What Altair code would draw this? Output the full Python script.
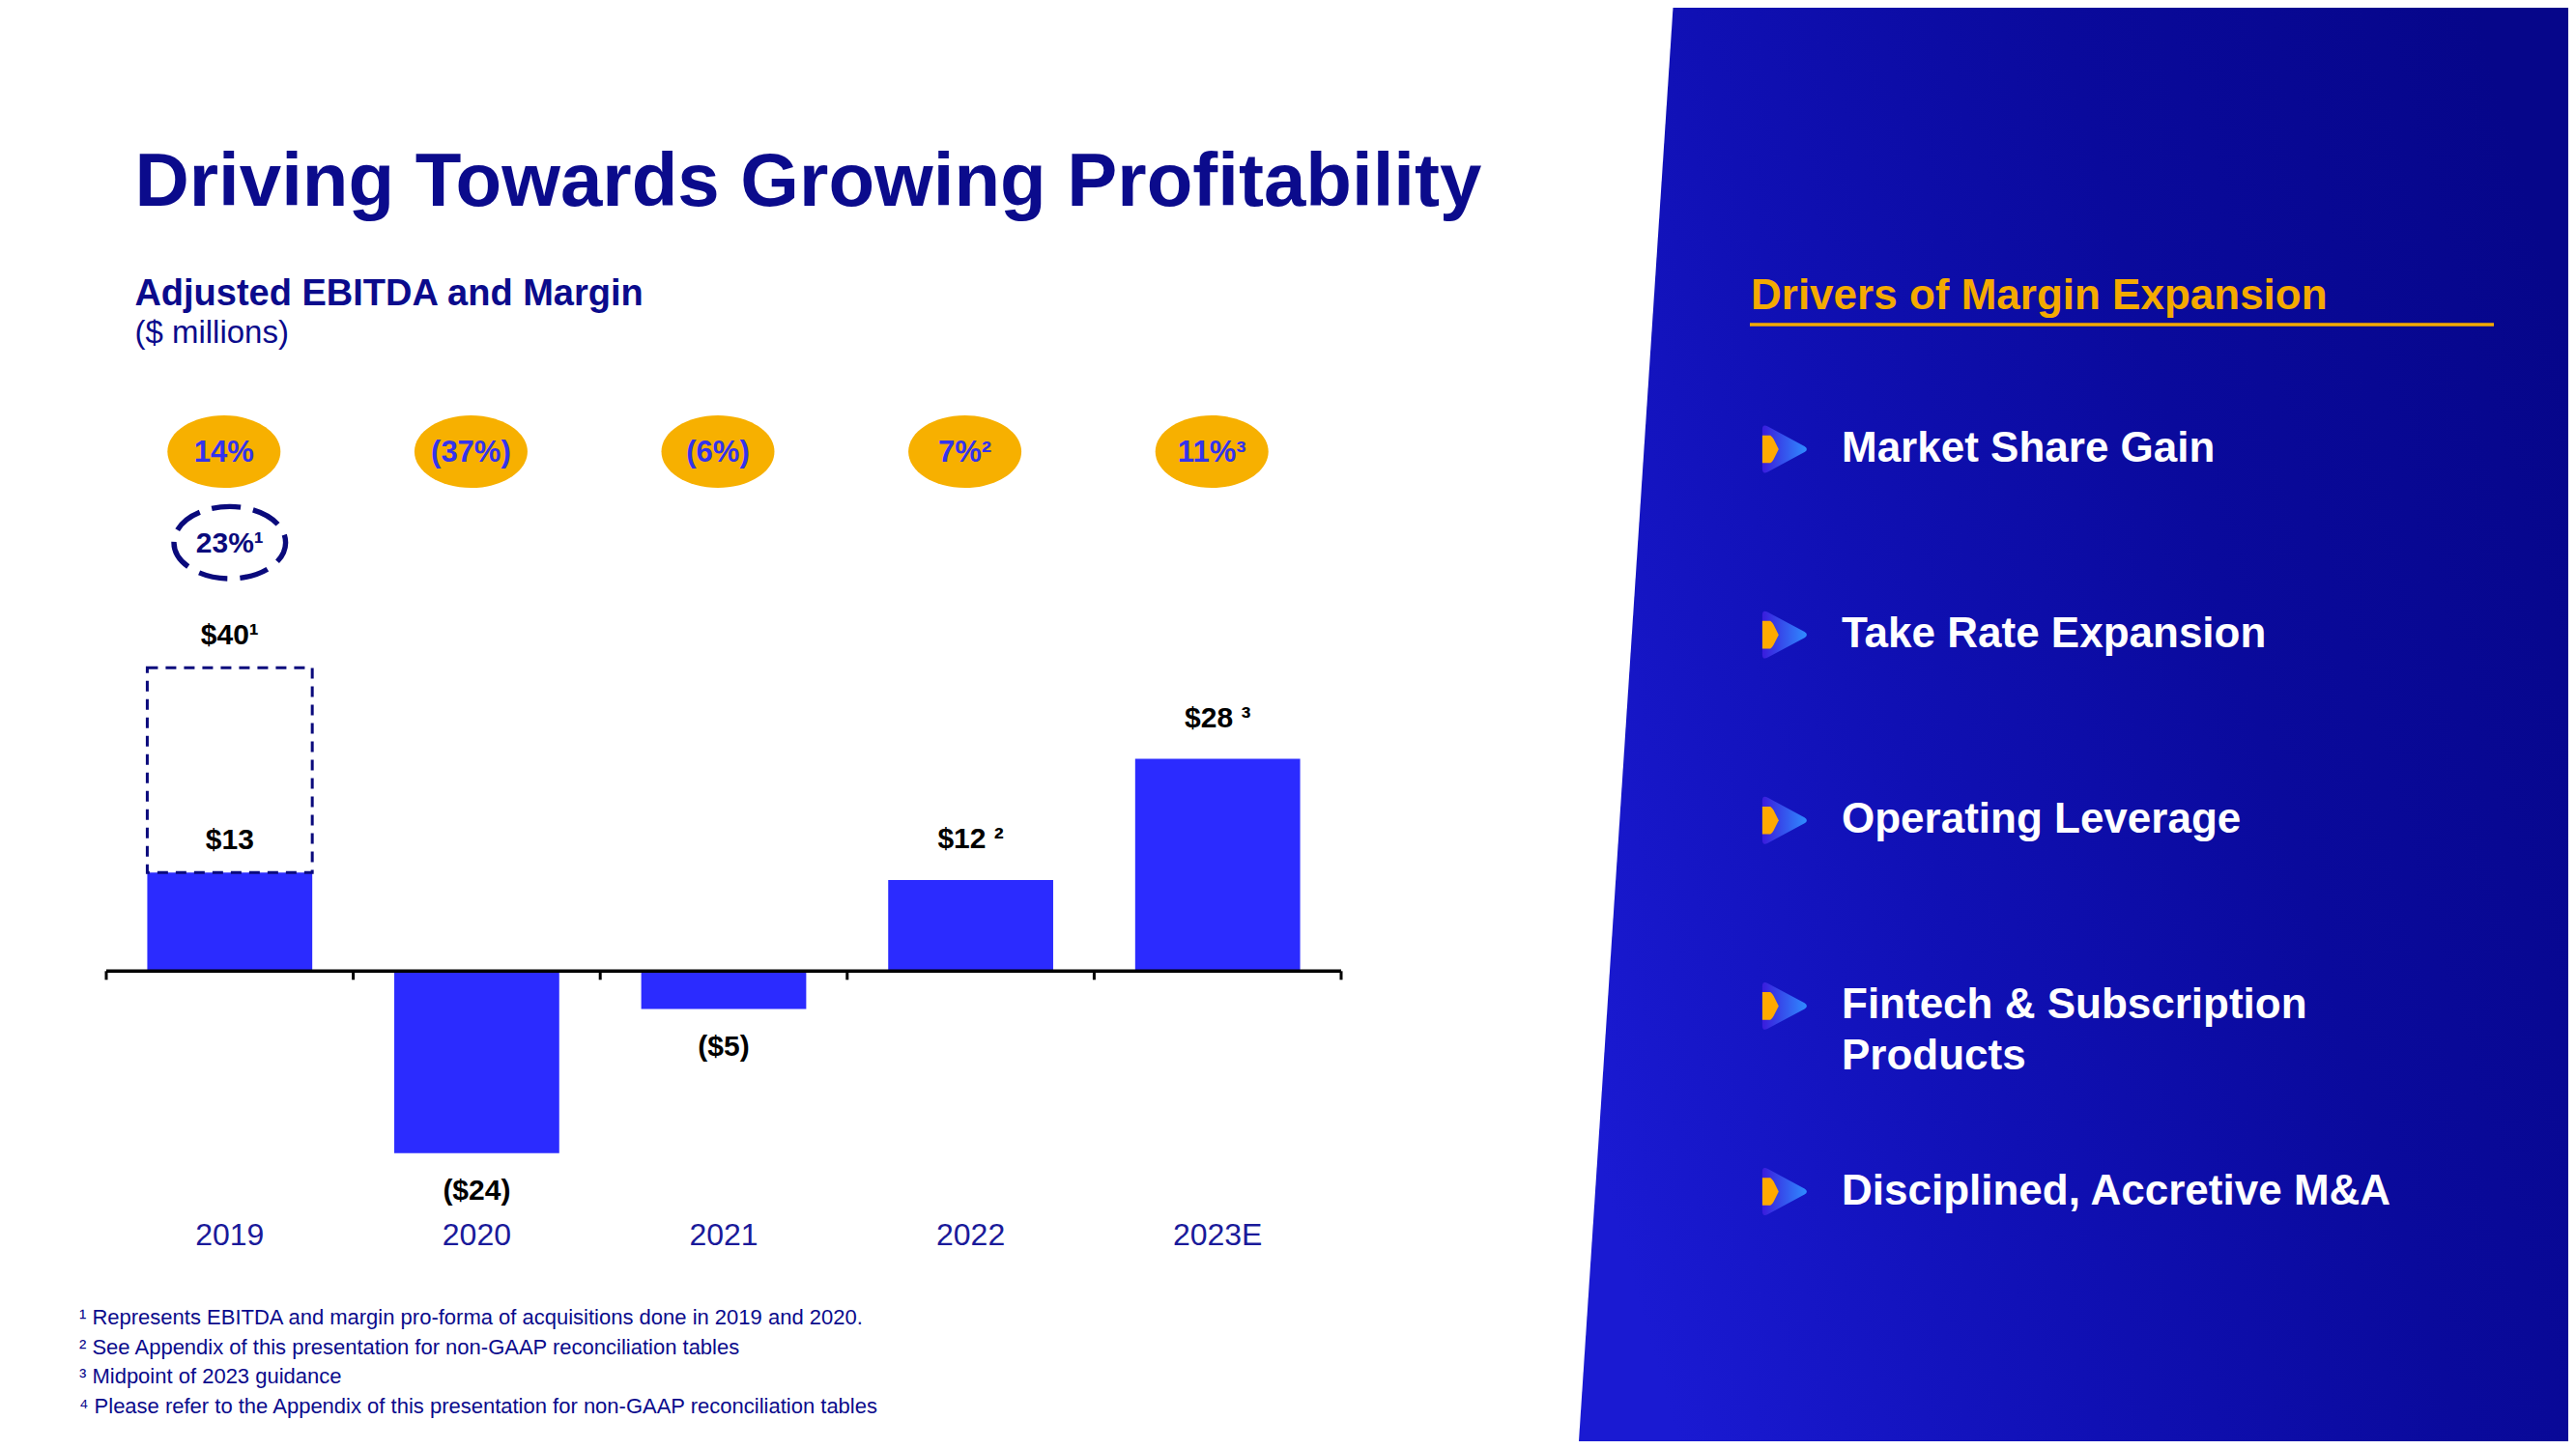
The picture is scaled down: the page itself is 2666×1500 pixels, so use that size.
import altair as alt
import pandas as pd

# ---------------- data ----------------
YEARS = ["2019", "2020", "2021", "2022", "2023E"]
EBITDA = [13, -24, -5, 12, 28]
EBITDA_LABELS = ["$13", "($24)", "($5)", "$12 ²", "$28 ³"]
MARGIN_LABELS = ["14%", "(37%)", "(6%)", "7%²", "11%³"]
PROFORMA_YEAR = ["2019"]
PROFORMA_EBITDA = [40]
PROFORMA_EBITDA_LABEL = ["$40¹"]
PROFORMA_MARGIN_LABEL = ["23%¹"]

TITLE = "Driving Towards Growing Profitability"
SUBTITLE = "Adjusted EBITDA and Margin"
UNITS = "($ millions)"
PANEL_TITLE = "Drivers of Margin Expansion"
DRIVERS = [
    "Market Share Gain",
    "Take Rate Expansion",
    "Operating Leverage",
    "Fintech & Subscription\nProducts",
    "Disciplined, Accretive M&A",
]
FOOTNOTES = [
    "¹ Represents EBITDA and margin pro-forma of acquisitions done in 2019 and 2020.",
    "² See Appendix of this presentation for non-GAAP reconciliation tables",
    "³ Midpoint of 2023 guidance",
    "⁴ Please refer to the Appendix of this presentation for non-GAAP reconciliation tables",
]

# ---------------- style / layout ----------------
W, H = 2650, 1484
FONT = "Liberation Sans, Arial, Helvetica, sans-serif"
NAVY = "#0B0B8C"
DNAVY = "#0A0A7C"
BAR = "#2B2BFF"
GOLD = "#F7B000"
BUBBLE_TXT = "#3333EE"
YEAR_C = "#1A1A9A"
PANEL_GOLD = "#F4AA00"

Y0 = 997.3
K = 7.85
XS = alt.Scale(domain=YEARS, range=[102, 1380], paddingInner=0, paddingOuter=0)
YS = alt.Scale(domain=[-30, 50], range=[Y0 + 30 * K, Y0 - 50 * K], nice=False, zero=False)
DS = alt.Scale(type="point", domain=DRIVERS, range=[457, 1225.5], padding=0)

df = pd.DataFrame({"year": YEARS, "ebitda": EBITDA,
                   "ebitda_label": EBITDA_LABELS, "margin_label": MARGIN_LABELS})
pf = pd.DataFrame({"year": PROFORMA_YEAR, "proforma": PROFORMA_EBITDA,
                   "reported": [EBITDA[0]], "label": PROFORMA_EBITDA_LABEL,
                   "margin": PROFORMA_MARGIN_LABEL})
drv = pd.DataFrame({"d": DRIVERS})

x_enc = alt.X("year:N", scale=XS, axis=None)


def text_layer(txt, x, y, **kw):
    base = dict(font=FONT, align="left", baseline="alphabetic")
    base.update(kw)
    return alt.Chart(pd.DataFrame({"t": [txt]})).mark_text(**base).encode(
        x=alt.value(x), y=alt.value(y), text="t:N")


# right panel (slanted blue block)
PANEL_PATH = "M-0.557,-1.02 L0.76,-1.02 L0.76,1.02 L-0.691,1.02 Z"
panel_grad = alt.LinearGradient(
    gradient="linear",
    stops=[alt.GradientStop(color="#1A1AD2", offset=0),
           alt.GradientStop(color="#1010B4", offset=0.35),
           alt.GradientStop(color="#0A0A9C", offset=0.65),
           alt.GradientStop(color="#06068A", offset=1)],
    x1=0, y1=0.75, x2=1, y2=0.35)
panel = alt.Chart(pd.DataFrame({"k": [0]})).mark_point(
    shape=PANEL_PATH, size=1484 ** 2, filled=True, fill=panel_grad,
    strokeWidth=0, opacity=1).encode(x=alt.value(2137.75), y=alt.value(742))

title = text_layer(TITLE, 131.4, 204.5, fontSize=78, fontWeight="bold", color=NAVY)
subtitle = text_layer(SUBTITLE, 131.4, 308.3, fontSize=38, fontWeight="bold", color=NAVY)
units = text_layer(UNITS, 131.4, 347, fontSize=33, color=NAVY)

# bars
bars = alt.Chart(df).mark_bar(width=alt.RelativeBandSize(0.668), color=BAR, opacity=1).encode(
    x=x_enc, y=alt.Y("ebitda:Q", scale=YS, axis=None))

pf_rect = alt.Chart(pf).mark_bar(
    width=alt.RelativeBandSize(0.668), filled=False, stroke=DNAVY, strokeWidth=3,
    strokeDash=[11, 8], opacity=1).encode(
    x=x_enc, y=alt.Y("proforma:Q", scale=YS, axis=None), y2="reported:Q")

axis_line = alt.Chart(pd.DataFrame({"v": [0]})).mark_rule(color="black", strokeWidth=3.5).encode(
    y=alt.Y("v:Q", scale=YS, axis=None), x=alt.value(102), x2=alt.value(1380))

ticks = alt.Chart(df).mark_rule(color="black", strokeWidth=3).encode(
    x=alt.X("year:N", scale=XS, axis=None, bandPosition=0),
    y=alt.value(Y0), y2=alt.value(Y0 + 9))
tick_end = alt.Chart(df.tail(1)).mark_rule(color="black", strokeWidth=3).encode(
    x=alt.X("year:N", scale=XS, axis=None, bandPosition=1),
    y=alt.value(Y0), y2=alt.value(Y0 + 9))

lab_kw = dict(font=FONT, fontSize=30, fontWeight="bold", color="black")
lab_pos = alt.Chart(df).transform_filter(
    "datum.ebitda > 0 && datum.year != '2019'").mark_text(dy=-42, **lab_kw).encode(
    x=x_enc, y=alt.Y("ebitda:Q", scale=YS, axis=None), text="ebitda_label:N")
lab_neg = alt.Chart(df).transform_filter("datum.ebitda < 0").mark_text(dy=39, **lab_kw).encode(
    x=x_enc, y=alt.Y("ebitda:Q", scale=YS, axis=None), text="ebitda_label:N")
lab_first = alt.Chart(df).transform_filter("datum.year == '2019'").mark_text(dy=-33, **lab_kw).encode(
    x=x_enc, y=alt.Y("ebitda:Q", scale=YS, axis=None), text="ebitda_label:N")
lab_pf = alt.Chart(pf).mark_text(dy=-33, **lab_kw).encode(
    x=x_enc, y=alt.Y("proforma:Q", scale=YS, axis=None), text="label:N")

# margin bubbles
ELLIPSE = "M-1,0 A1,0.641,0,1,0,1,0 A1,0.641,0,1,0,-1,0 Z"
ELLIPSE2 = "M-1,0 A1,0.645,0,1,0,1,0 A1,0.645,0,1,0,-1,0 Z"
BUB_Y = 459.6
bubbles = alt.Chart(df).mark_point(
    shape=ELLIPSE, size=117 ** 2, filled=True, fill=GOLD, strokeWidth=0,
    opacity=1, xOffset=-6).encode(x=x_enc, y=alt.value(BUB_Y))
bubble_txt = alt.Chart(df).mark_text(
    font=FONT, fontSize=31, fontWeight="bold", color=BUBBLE_TXT, dx=-6).encode(
    x=x_enc, y=alt.value(BUB_Y + 1), text="margin_label:N")

pf_ell = alt.Chart(pf).mark_point(
    shape=ELLIPSE2, size=115.6 ** 2, filled=False, stroke=DNAVY, strokeWidth=5.4,
    strokeDash=[30, 13], opacity=1).encode(x=x_enc, y=alt.value(553.7))
pf_ell_txt = alt.Chart(pf).mark_text(
    font=FONT, fontSize=30, fontWeight="bold", color=DNAVY).encode(
    x=x_enc, y=alt.value(554.5), text="margin:N")

years = alt.Chart(df).mark_text(font=FONT, fontSize=32, color=YEAR_C).encode(
    x=x_enc, y=alt.value(1271), text="year:N")

footnotes = text_layer("\n".join(FOOTNOTES), 74, 1346, fontSize=22, color=NAVY,
                       baseline="top", lineBreak="\n", lineHeight=30.6)

# right panel contents
panel_title = text_layer(PANEL_TITLE, 1804, 312, fontSize=44, fontWeight="bold", color=PANEL_GOLD)
underline = alt.Chart(pd.DataFrame({"k": [0]})).mark_rule(color=PANEL_GOLD, strokeWidth=3.5).encode(
    x=alt.value(1803), x2=alt.value(2573), y=alt.value(328))

drv_txt = alt.Chart(drv).mark_text(
    font=FONT, align="left", baseline="middle", lineBreak="\n", lineHeight=52.7,
    fontSize=44, fontWeight="bold", color="white").encode(
    x=alt.value(1898), y=alt.Y("d:N", scale=DS, axis=None), text="d:N")

PLAY = "M-0.9,-0.78 Q-0.9,-1.02 -0.68,-0.9 L0.78,-0.12 Q0.96,0 0.78,0.12 L-0.68,0.9 Q-0.9,1.02 -0.9,0.78 Z"
NOTCH = "M-0.9,-0.55 L-0.58,-0.55 Q-0.5,-0.5 -0.45,-0.4 L-0.25,0 L-0.45,0.4 Q-0.5,0.5 -0.58,0.55 L-0.9,0.55 Z"
icon_grad = alt.LinearGradient(
    gradient="linear",
    stops=[alt.GradientStop(color="#3A1CDC", offset=0),
           alt.GradientStop(color="#2F8CFF", offset=1)],
    x1=0, y1=0.5, x2=1, y2=0.5)
icon_blue = alt.Chart(drv).mark_point(
    shape=PLAY, size=52 ** 2, filled=True, fill=icon_grad, strokeWidth=0, opacity=1).encode(
    x=alt.value(1839.3), y=alt.Y("d:N", scale=DS, axis=None))
icon_orange = alt.Chart(drv).mark_point(
    shape=NOTCH, size=52 ** 2, filled=True, fill="#FFAA00", strokeWidth=0, opacity=1).encode(
    x=alt.value(1839.3), y=alt.Y("d:N", scale=DS, axis=None))

chart = alt.layer(
    panel, title, subtitle, units,
    bars, pf_rect, axis_line, ticks, tick_end,
    lab_pos, lab_neg, lab_first, lab_pf,
    bubbles, bubble_txt, pf_ell, pf_ell_txt, years, footnotes,
    panel_title, underline, icon_blue, icon_orange, drv_txt,
).resolve_scale(y="independent").properties(
    width=W, height=H, padding=0,
    autosize=alt.AutoSizeParams(type="none"), background="white",
).configure_view(strokeWidth=0)

chart.save("out.html", embed_options={"renderer": "svg", "actions": False})
